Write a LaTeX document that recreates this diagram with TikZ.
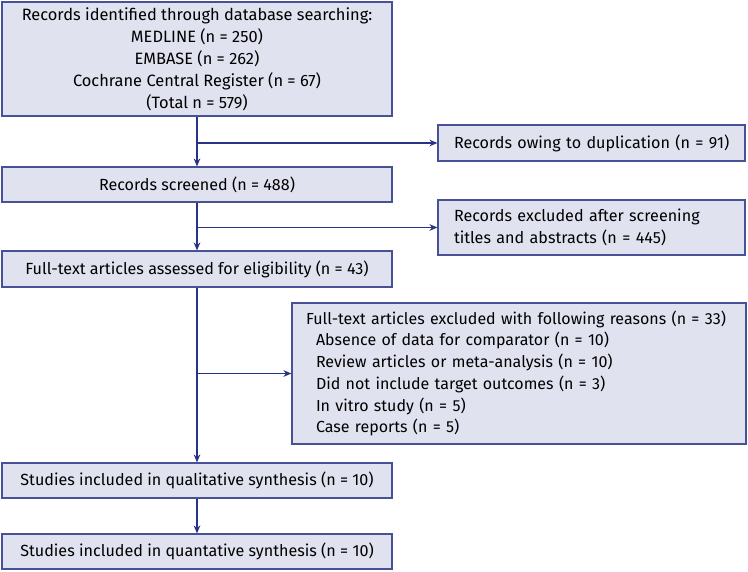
\documentclass[tikz,border=0pt]{standalone}
\usepackage{fontspec}
\setmainfont{Fira Sans}
\usetikzlibrary{arrows.meta}
\definecolor{boxfill}{RGB}{225,226,240}
\definecolor{boxdraw}{RGB}{72,80,150}
\definecolor{arrcol}{RGB}{40,50,135}
\tikzset{
  box/.style={draw=boxdraw, fill=boxfill, line width=0.9pt, rectangle, inner sep=0pt,
    font=\fontsize{12.1}{16.5}\selectfont},
  arr/.style={draw=arrcol, line width=0.85pt, -{Stealth[length=6pt,width=5pt]}}
}
\begin{document}
\begin{tikzpicture}[x=0.75pt,y=-0.75pt]
\useasboundingbox (0,0) rectangle (748,571);
\node[box, minimum width=292.5pt, minimum height=85.5pt, align=center,
  font=\fontsize{12.3}{16.5}\selectfont] (top) at (197,59)
  {Records identified through database searching:\\MEDLINE (n = 250)\\EMBASE (n = 262)\\Cochrane Central Register (n = 67)\\(Total n = 579)};
\node[box, minimum width=230.25pt, minimum height=27pt, text width=206.25pt, align=left] (dup) at (591.5,143)
  {\mbox{Records owing to duplication (n = 91)}};
\node[box, minimum width=292.5pt, minimum height=26.25pt, align=center] (scr) at (197,184.5)
  {Records screened (n = 488)};
\node[box, minimum width=230.25pt, minimum height=41.25pt, text width=206.25pt, align=left,
  font=\fontsize{12.1}{17}\selectfont] (exc) at (591.5,227.5)
  {\mbox{Records excluded after screening}\\\mbox{titles and abstracts (n = 445)}};
\node[box, minimum width=292.5pt, minimum height=27pt, align=center] (full) at (197,269)
  {Full-text articles assessed for eligibility (n = 43)};
\node[box, minimum width=340.5pt, minimum height=105.75pt, text width=319.5pt, align=left,
  font=\fontsize{12}{16.3}\selectfont] (rea) at (519,373.5)
  {\mbox{Full-text articles excluded with following reasons (n = 33)}\\
  \mbox{\hspace*{7.5pt}Absence of data for comparator (n = 10)}\\
  \mbox{\hspace*{7.5pt}Review articles or meta-analysis (n = 10)}\\
  \mbox{\hspace*{7.5pt}Did not include target outcomes (n = 3)}\\
  \mbox{\hspace*{7.5pt}In vitro study (n = 5)}\\
  \mbox{\hspace*{7.5pt}Case reports (n = 5)}};
\node[box, minimum width=292.5pt, minimum height=26.25pt, align=center] (qual) at (197,480.5)
  {Studies included in qualitative synthesis (n = 10)};
\node[box, minimum width=292.5pt, minimum height=26.25pt, align=center] (quan) at (197,551.5)
  {Studies included in quantative synthesis (n = 10)};
\draw[arr] (top) -- (scr);
\draw[arr] (top.south |- dup.west) -- (dup.west);
\draw[arr] (scr) -- (full);
\draw[arr] (scr.south |- exc.west) -- (exc.west);
\draw[arr] (full) -- (qual);
\draw[arr] (full.south |- rea.west) -- (rea.west);
\draw[arr] (qual) -- (quan);
\end{tikzpicture}
\end{document}
